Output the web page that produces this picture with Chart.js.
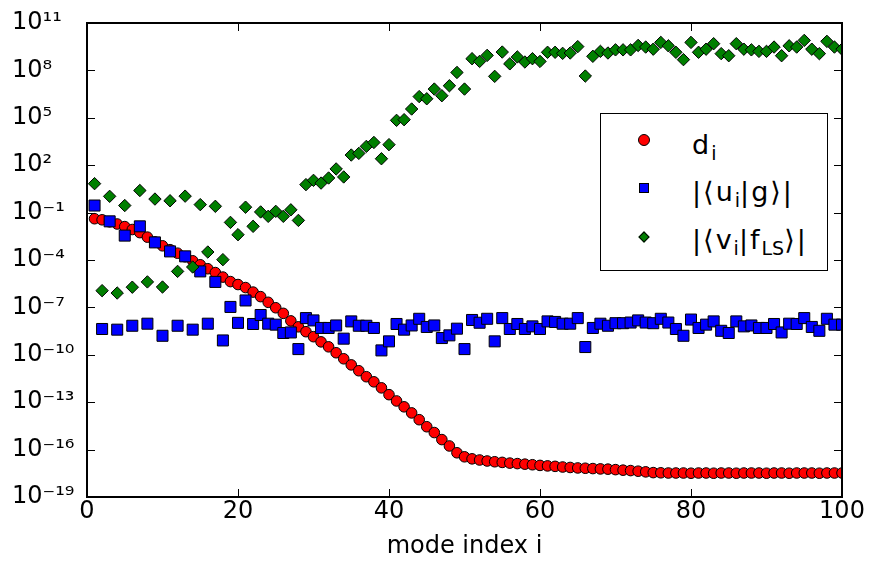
<!DOCTYPE html>
<html>
<head>
<meta charset="utf-8">
<script src="https://cdn.jsdelivr.net/npm/chart.js@4/dist/chart.umd.min.js"></script>
<style>
  body { margin: 0; background: #fff; }
  #wrap { position: relative; width: 869px; height: 561px; }
  #legend {
    position: absolute; left: 600px; top: 113px; width: 226px; height: 156px;
    border: 1px solid #000; background: #fff;
    font-family: "DejaVu Sans", sans-serif; font-size: 27px; color: #000;
  }
  #legend .row { position: absolute; left: 91px; line-height: 27px; white-space: nowrap; letter-spacing: 2px; }
  #legend sub { font-size: 19px; vertical-align: -6px; line-height: 0; letter-spacing: 0; }
  #legend .mk { position: absolute; box-sizing: border-box; border: 1px solid #000; }
</style>
</head>
<body>
<div id="wrap">
  <canvas id="myChart" width="869" height="561"></canvas>
  <div id="legend">
    <div class="mk" style="left:37px;top:20px;width:12px;height:12px;border-radius:50%;background:#ff0000"></div>
    <div class="row" style="top:17px">d<sub>i</sub></div>
    <div class="mk" style="left:38px;top:69px;width:10px;height:10px;background:#0000ff"></div>
    <div class="row" style="top:64px">|⟨u<sub>i</sub>|g⟩|</div>
    <div class="mk" style="left:39px;top:119px;width:8px;height:8px;background:#007f00;transform:rotate(45deg)"></div>
    <div class="row" style="top:112px">|⟨v<sub>i</sub>|f<sub>LS</sub>⟩|</div>
  </div>
</div>
<script>
const modeIndex = [
  1, 2, 3, 4, 5, 6, 7, 8, 9, 10, 11, 12, 13, 14, 15, 16, 17, 18, 19, 20,
  21, 22, 23, 24, 25, 26, 27, 28, 29, 30, 31, 32, 33, 34, 35, 36, 37, 38, 39, 40,
  41, 42, 43, 44, 45, 46, 47, 48, 49, 50, 51, 52, 53, 54, 55, 56, 57, 58, 59, 60,
  61, 62, 63, 64, 65, 66, 67, 68, 69, 70, 71, 72, 73, 74, 75, 76, 77, 78, 79, 80,
  81, 82, 83, 84, 85, 86, 87, 88, 89, 90, 91, 92, 93, 94, 95, 96, 97, 98, 99, 100
];

// d_i
const dValues = [
  4.1e-2, 3.5e-2, 2.6e-2, 1.9e-2, 1.3e-2, 8.5e-3, 5.4e-3, 2.8e-3, 1.4e-3, 7.9e-4,
  4.5e-4, 2.7e-4, 1.6e-4, 8.9e-5, 5.0e-5, 2.8e-5, 1.6e-5, 8.3e-6, 4.3e-6, 2.8e-6,
  1.8e-6, 9.3e-7, 4.8e-7, 2.1e-7, 9.5e-8, 4.2e-8, 1.4e-8, 5.9e-9, 2.9e-9, 1.4e-9,
  6.6e-10, 3.2e-10, 1.35e-10, 5.6e-11, 2.3e-11, 9.8e-12, 4.1e-12, 1.95e-12, 8.1e-13, 3.0e-13,
  1.2e-13, 5.1e-14, 2.1e-14, 7.8e-15, 2.8e-15, 1.2e-15, 4.3e-16, 1.7e-16, 6.3e-17, 3.5e-17,
  2.6e-17, 2.2e-17, 1.9e-17, 1.7e-17, 1.55e-17, 1.4e-17, 1.3e-17, 1.2e-17, 1.1e-17, 1.0e-17,
  9.3e-18, 8.7e-18, 7.9e-18, 7.4e-18, 6.9e-18, 6.6e-18, 6.3e-18, 6.0e-18, 5.8e-18, 5.4e-18,
  5.0e-18, 4.7e-18, 4.3e-18, 3.9e-18, 3.5e-18, 3.4e-18, 3.3e-18, 3.3e-18, 3.3e-18, 3.2e-18,
  3.3e-18, 3.3e-18, 3.2e-18, 3.3e-18, 3.3e-18, 3.2e-18, 3.3e-18, 3.3e-18, 3.3e-18, 3.2e-18,
  3.3e-18, 3.3e-18, 3.2e-18, 3.3e-18, 3.3e-18, 3.3e-18, 3.2e-18, 3.3e-18, 3.3e-18, 3.3e-18
];

// |<u_i|g>|
const ugValues = [
  2.8e-1, 4.3e-9, 2.8e-2, 3.9e-9, 3.5e-3, 6.9e-9, 1.35e-2, 9.3e-9, 1.3e-3, 1.6e-9,
  3.5e-4, 6.9e-9, 1.7e-4, 3.9e-9, 1.9e-5, 9.3e-9, 4.1e-6, 8.1e-10, 1.07e-7, 1.05e-8,
  2.75e-7, 8.9e-9, 3.3e-8, 9.3e-9, 8.1e-9, 2.4e-9, 2.6e-9, 2.3e-10, 2.1e-8, 1.5e-8,
  5.0e-9, 5.0e-9, 7.2e-9, 1.05e-9, 1.3e-8, 6.9e-9, 6.9e-9, 5.0e-9, 1.9e-10, 7.1e-10,
  8.9e-9, 3.9e-9, 7.2e-9, 1.9e-8, 5.8e-9, 7.2e-9, 1.15e-9, 1.7e-9, 4.5e-9, 2.3e-10,
  1.6e-8, 1.07e-8, 1.9e-8, 7.1e-10, 2.1e-8, 4.3e-9, 8.9e-9, 4.3e-9, 6.3e-9, 4.3e-9,
  1.3e-8, 1.2e-8, 9.3e-9, 9.3e-9, 2.1e-8, 3.1e-10, 5.0e-9, 9.3e-9, 6.9e-9, 1.0e-8,
  1.0e-8, 1.1e-8, 1.5e-8, 1.1e-8, 1.0e-8, 1.9e-8, 1.1e-8, 4.3e-9, 1.6e-9, 1.7e-8,
  5.0e-9, 8.1e-9, 1.3e-8, 3.3e-9, 2.4e-9, 1.3e-8, 6.3e-9, 7.2e-9, 5.0e-9, 5.0e-9,
  8.9e-9, 2.6e-9, 9.3e-9, 8.9e-9, 2.1e-8, 5.8e-9, 3.3e-9, 1.9e-8, 8.1e-9, 8.1e-9
];

// |<v_i|f_LS>|
const vfValues = [
  6.8, 1.15e-6, 1.07, 8.1e-7, 2.8e-1, 1.9e-6, 2.5, 4.1e-6, 7.2e-1, 1.95e-6,
  5.6e-1, 1.9e-5, 1.1, 3.6e-5, 3.2e-1, 3.2e-4, 2.5e-1, 1.05e-4, 2.4e-2, 4.0e-3,
  2.2e-1, 1.35e-2, 1.1e-1, 5.8e-2, 1.2e-1, 5.8e-2, 1.5e-1, 3.2e-2, 5.9, 11,
  7.4, 15.5, 58, 18, 440, 560, 1550, 2750, 257, 2000,
  6.9e4, 7.6e4, 3.6e5, 2.2e6, 1.6e6, 6.6e6, 2.5e6, 1.07e7, 7.4e7, 6.6e6,
  5.5e8, 3.7e8, 8.9e8, 4.2e7, 1.45e9, 2.6e8, 7.1e8, 3.4e8, 5.5e8, 3.7e8,
  1.4e9, 1.4e9, 1.2e9, 1.26e9, 3.2e9, 4.4e7, 7.8e8, 1.6e9, 1.26e9, 2.0e9,
  2.0e9, 2.0e9, 3.8e9, 3.0e9, 2.2e9, 5.9e9, 3.6e9, 1.4e9, 4.8e8, 5.9e9,
  1.4e9, 2.2e9, 4.9e9, 1.15e9, 8.5e8, 4.9e9, 2.2e9, 2.0e9, 1.6e9, 1.6e9,
  3.0e9, 8.5e8, 3.6e9, 3.0e9, 7.9e9, 2.2e9, 1.15e9, 6.9e9, 3.0e9, 2.2e9
];

const xTicks = [0, 20, 40, 60, 80, 100];
const yTickExps = [11, 8, 5, 2, -1, -4, -7, -10, -13, -16, -19];

const sup = { '-': '⁻', '0': '⁰', '1': '¹', '2': '²', '3': '³', '4': '⁴', '5': '⁵', '6': '⁶', '7': '⁷', '8': '⁸', '9': '⁹' };
function powLabel(v) {
  const e = Math.round(Math.log10(v));
  return '10' + String(e).split('').map(c => sup[c]).join('');
}

function points(vals) {
  return modeIndex.map((x, k) => ({ x: x, y: vals[k] }));
}

// inward ticks on all four sides + frame, matplotlib style
const frameTicks = {
  id: 'frameTicks',
  afterDraw(chart) {
    const { ctx, chartArea: a, scales: { x, y } } = chart;
    ctx.save();
    ctx.strokeStyle = '#000';
    ctx.lineWidth = 1;
    ctx.beginPath();
    x.ticks.forEach(t => {
      const px = Math.round(x.getPixelForValue(t.value)) + 0.5;
      ctx.moveTo(px, a.bottom); ctx.lineTo(px, a.bottom - 8);
      ctx.moveTo(px, a.top); ctx.lineTo(px, a.top + 8);
    });
    y.ticks.forEach(t => {
      const py = Math.round(y.getPixelForValue(t.value)) + 0.5;
      ctx.moveTo(a.left, py); ctx.lineTo(a.left + 8, py);
      ctx.moveTo(a.right, py); ctx.lineTo(a.right - 8, py);
    });
    ctx.stroke();
    ctx.lineWidth = 2;
    ctx.strokeRect(a.left, a.top, a.right - a.left, a.bottom - a.top);
    ctx.restore();
  }
};

const ctx = document.getElementById('myChart').getContext('2d');
const tickFont = { family: 'DejaVu Sans', size: 24 };

const myChart = new Chart(ctx, {
  type: 'scatter',
  data: {
    datasets: [
      {
        label: 'd_i', data: points(dValues), order: 3, clip: 0,
        pointStyle: 'circle', pointRadius: 5.3, pointHoverRadius: 5.3,
        backgroundColor: '#ff0000', borderColor: '#000', borderWidth: 1
      },
      {
        label: '|<u_i|g>|', data: points(ugValues), order: 2, clip: 0,
        pointStyle: 'rect', pointRadius: 7.8, pointHoverRadius: 7.8,
        backgroundColor: '#0000ff', borderColor: '#000', borderWidth: 1
      },
      {
        label: '|<v_i|f_LS>|', data: points(vfValues), order: 1, clip: 0,
        pointStyle: 'rectRot', pointRadius: 6.2, pointHoverRadius: 6.2,
        backgroundColor: '#007f00', borderColor: '#000', borderWidth: 1
      }
    ]
  },
  options: {
    responsive: false,
    animation: false,
    layout: { padding: { top: 23, right: 27, left: 12, bottom: 0 } },
    plugins: { legend: { display: false }, tooltip: { enabled: false } },
    scales: {
      x: {
        type: 'linear', min: 0, max: 100,
        afterBuildTicks: s => { s.ticks = xTicks.map(v => ({ value: v })); },
        afterFit: s => { s.height = 64; },
        grid: { display: false, drawTicks: false },
        border: { display: false },
        ticks: { font: tickFont, color: '#000', padding: 0, maxRotation: 0 },
        title: { display: true, text: 'mode index i', font: tickFont, color: '#000', padding: { top: 0, bottom: 0 } }
      },
      y: {
        type: 'logarithmic', min: 1e-19, max: 1e11,
        afterBuildTicks: s => { s.ticks = yTickExps.map(e => ({ value: Math.pow(10, e) })); },
        afterFit: s => { s.width = 75; },
        grid: { display: false, drawTicks: false },
        border: { display: false },
        ticks: { font: tickFont, color: '#000', crossAlign: 'far', callback: v => powLabel(v) }
      }
    }
  },
  plugins: [frameTicks]
});
</script>
</body>
</html>
